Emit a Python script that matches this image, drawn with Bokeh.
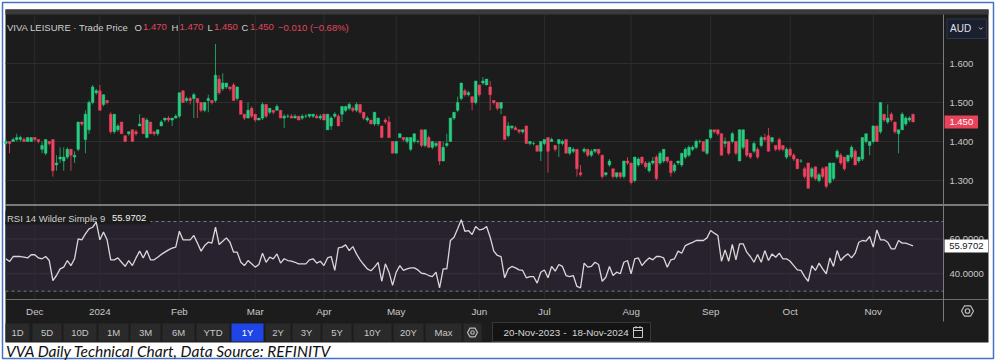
from bokeh.plotting import figure
from bokeh.models import Range1d, ColumnDataSource
from bokeh.core.properties import value
from bokeh.embed import file_html
from bokeh.resources import INLINE

# ---------------- data ----------------
open_ = [
    1.395, 1.400, 1.400, 1.405, 1.405, 1.405, 1.400, 1.400, 1.410, 1.405,
    1.380, 1.370, 1.400, 1.405, 1.340, 1.355, 1.350, 1.360, 1.380, 1.360,
    1.380, 1.450, 1.405, 1.430, 1.500, 1.525, 1.530, 1.495, 1.505, 1.470,
    1.425, 1.430, 1.450, 1.415, 1.420, 1.430, 1.425, 1.440, 1.460, 1.410,
    1.450, 1.425, 1.420, 1.440, 1.455, 1.460, 1.455, 1.460, 1.465, 1.530,
    1.505, 1.510, 1.510, 1.510, 1.500, 1.480, 1.505, 1.505, 1.505, 1.560,
    1.535, 1.540, 1.540, 1.545, 1.510, 1.505, 1.470, 1.460, 1.485, 1.470,
    1.455, 1.460, 1.495, 1.475, 1.480, 1.480, 1.480, 1.460, 1.465, 1.465,
    1.460, 1.465, 1.460, 1.465, 1.465, 1.465, 1.465, 1.460, 1.470, 1.430,
    1.440, 1.465, 1.465, 1.470, 1.480, 1.485, 1.485, 1.480, 1.495, 1.475,
    1.455, 1.455, 1.445, 1.445, 1.440, 1.455, 1.450, 1.400, 1.370, 1.410,
    1.410, 1.400, 1.380, 1.400, 1.400, 1.430, 1.390, 1.410, 1.385, 1.390,
    1.400, 1.350, 1.390, 1.400, 1.460, 1.480, 1.510, 1.530, 1.520, 1.515,
    1.500, 1.545, 1.550, 1.545, 1.540, 1.505, 1.500, 1.485, 1.465, 1.415,
    1.435, 1.435, 1.430, 1.425, 1.440, 1.395, 1.395, 1.390, 1.375, 1.395,
    1.410, 1.400, 1.390, 1.395, 1.395, 1.405, 1.370, 1.375, 1.380, 1.320,
    1.375, 1.380, 1.365, 1.375, 1.380, 1.365, 1.315, 1.340, 1.330, 1.310,
    1.320, 1.310, 1.350, 1.345, 1.300, 1.340, 1.360, 1.345, 1.325, 1.345,
    1.360, 1.345, 1.350, 1.360, 1.350, 1.325, 1.345, 1.340, 1.360, 1.365,
    1.380, 1.385, 1.400, 1.400, 1.370, 1.410, 1.430, 1.430, 1.420, 1.395,
    1.400, 1.400, 1.400, 1.350, 1.385, 1.405, 1.370, 1.375, 1.380, 1.390,
    1.410, 1.415, 1.400, 1.390, 1.405, 1.390, 1.360, 1.380, 1.365, 1.355,
    1.350, 1.330, 1.345, 1.310, 1.335, 1.300, 1.330, 1.335, 1.295, 1.305,
    1.360, 1.365, 1.360, 1.350, 1.360, 1.375, 1.350, 1.355, 1.400, 1.390,
    1.400, 1.440, 1.425, 1.470, 1.450, 1.470, 1.450, 1.420, 1.430, 1.445,
    1.455, 1.470,
]
high = [
    1.405, 1.400, 1.410, 1.420, 1.415, 1.410, 1.410, 1.410, 1.410, 1.405,
    1.400, 1.405, 1.400, 1.405, 1.365, 1.385, 1.385, 1.385, 1.380, 1.375,
    1.450, 1.450, 1.480, 1.505, 1.545, 1.535, 1.545, 1.520, 1.505, 1.475,
    1.470, 1.445, 1.450, 1.415, 1.425, 1.430, 1.430, 1.470, 1.460, 1.460,
    1.450, 1.425, 1.430, 1.455, 1.460, 1.465, 1.460, 1.470, 1.525, 1.530,
    1.515, 1.515, 1.525, 1.510, 1.500, 1.500, 1.520, 1.505, 1.650, 1.570,
    1.575, 1.550, 1.540, 1.550, 1.540, 1.505, 1.470, 1.500, 1.490, 1.470,
    1.460, 1.500, 1.495, 1.485, 1.480, 1.495, 1.480, 1.470, 1.470, 1.470,
    1.470, 1.465, 1.470, 1.470, 1.470, 1.470, 1.470, 1.470, 1.470, 1.470,
    1.465, 1.475, 1.470, 1.490, 1.490, 1.500, 1.490, 1.500, 1.495, 1.475,
    1.465, 1.455, 1.475, 1.460, 1.440, 1.460, 1.465, 1.400, 1.400, 1.420,
    1.410, 1.410, 1.410, 1.420, 1.405, 1.430, 1.430, 1.415, 1.400, 1.400,
    1.400, 1.400, 1.420, 1.460, 1.475, 1.515, 1.550, 1.535, 1.530, 1.515,
    1.555, 1.545, 1.565, 1.560, 1.555, 1.505, 1.500, 1.500, 1.465, 1.450,
    1.440, 1.440, 1.430, 1.430, 1.440, 1.400, 1.400, 1.390, 1.400, 1.405,
    1.410, 1.410, 1.390, 1.405, 1.405, 1.405, 1.385, 1.385, 1.380, 1.340,
    1.385, 1.380, 1.380, 1.380, 1.380, 1.365, 1.320, 1.355, 1.330, 1.320,
    1.320, 1.350, 1.360, 1.345, 1.360, 1.360, 1.360, 1.350, 1.350, 1.360,
    1.365, 1.375, 1.380, 1.360, 1.350, 1.345, 1.350, 1.370, 1.385, 1.390,
    1.390, 1.405, 1.405, 1.400, 1.405, 1.430, 1.430, 1.430, 1.420, 1.410,
    1.400, 1.425, 1.400, 1.430, 1.430, 1.405, 1.370, 1.400, 1.385, 1.415,
    1.420, 1.435, 1.410, 1.390, 1.410, 1.390, 1.385, 1.385, 1.370, 1.355,
    1.355, 1.335, 1.345, 1.335, 1.335, 1.320, 1.335, 1.335, 1.345, 1.345,
    1.380, 1.370, 1.360, 1.365, 1.390, 1.380, 1.360, 1.410, 1.420, 1.400,
    1.440, 1.440, 1.500, 1.470, 1.495, 1.475, 1.450, 1.430, 1.475, 1.465,
    1.465, 1.470,
]
low = [
    1.390, 1.370, 1.400, 1.400, 1.400, 1.400, 1.400, 1.400, 1.400, 1.395,
    1.370, 1.365, 1.390, 1.310, 1.325, 1.345, 1.325, 1.355, 1.325, 1.345,
    1.375, 1.440, 1.370, 1.420, 1.495, 1.520, 1.480, 1.490, 1.495, 1.420,
    1.420, 1.425, 1.420, 1.400, 1.415, 1.400, 1.415, 1.440, 1.420, 1.410,
    1.420, 1.415, 1.415, 1.440, 1.450, 1.450, 1.440, 1.460, 1.460, 1.500,
    1.500, 1.495, 1.460, 1.460, 1.475, 1.475, 1.475, 1.495, 1.500, 1.520,
    1.530, 1.535, 1.530, 1.505, 1.505, 1.470, 1.455, 1.460, 1.460, 1.450,
    1.455, 1.455, 1.460, 1.470, 1.470, 1.480, 1.460, 1.435, 1.460, 1.460,
    1.460, 1.455, 1.455, 1.460, 1.460, 1.460, 1.460, 1.455, 1.455, 1.430,
    1.430, 1.460, 1.440, 1.450, 1.475, 1.480, 1.475, 1.475, 1.470, 1.455,
    1.450, 1.445, 1.440, 1.440, 1.410, 1.445, 1.410, 1.370, 1.370, 1.410,
    1.400, 1.395, 1.375, 1.395, 1.395, 1.385, 1.385, 1.385, 1.380, 1.385,
    1.340, 1.350, 1.385, 1.400, 1.455, 1.475, 1.505, 1.515, 1.515, 1.480,
    1.495, 1.515, 1.545, 1.545, 1.480, 1.495, 1.480, 1.470, 1.405, 1.410,
    1.430, 1.430, 1.420, 1.420, 1.395, 1.390, 1.390, 1.375, 1.350, 1.390,
    1.320, 1.400, 1.375, 1.360, 1.390, 1.370, 1.365, 1.370, 1.310, 1.310,
    1.370, 1.360, 1.360, 1.370, 1.365, 1.305, 1.310, 1.335, 1.305, 1.305,
    1.305, 1.305, 1.340, 1.290, 1.295, 1.335, 1.340, 1.330, 1.320, 1.340,
    1.300, 1.340, 1.345, 1.345, 1.310, 1.320, 1.340, 1.335, 1.355, 1.360,
    1.375, 1.380, 1.395, 1.375, 1.365, 1.405, 1.420, 1.415, 1.365, 1.385,
    1.365, 1.395, 1.365, 1.350, 1.380, 1.360, 1.355, 1.370, 1.355, 1.385,
    1.400, 1.375, 1.395, 1.375, 1.375, 1.375, 1.355, 1.360, 1.350, 1.330,
    1.345, 1.305, 1.280, 1.305, 1.300, 1.295, 1.305, 1.280, 1.290, 1.300,
    1.355, 1.340, 1.325, 1.345, 1.355, 1.340, 1.345, 1.350, 1.395, 1.365,
    1.395, 1.400, 1.420, 1.450, 1.445, 1.450, 1.420, 1.370, 1.430, 1.440,
    1.450, 1.450,
]
close = [
    1.400, 1.395, 1.405, 1.410, 1.410, 1.400, 1.410, 1.410, 1.405, 1.400,
    1.390, 1.405, 1.395, 1.325, 1.345, 1.360, 1.360, 1.380, 1.365, 1.365,
    1.450, 1.445, 1.470, 1.500, 1.540, 1.530, 1.480, 1.520, 1.500, 1.425,
    1.470, 1.440, 1.420, 1.400, 1.425, 1.400, 1.420, 1.445, 1.420, 1.455,
    1.420, 1.420, 1.430, 1.450, 1.460, 1.455, 1.460, 1.465, 1.525, 1.500,
    1.510, 1.505, 1.520, 1.500, 1.480, 1.500, 1.510, 1.500, 1.570, 1.525,
    1.550, 1.550, 1.535, 1.505, 1.540, 1.470, 1.460, 1.480, 1.465, 1.455,
    1.460, 1.495, 1.465, 1.485, 1.475, 1.490, 1.460, 1.465, 1.465, 1.460,
    1.465, 1.455, 1.465, 1.465, 1.470, 1.470, 1.460, 1.465, 1.455, 1.470,
    1.460, 1.470, 1.440, 1.490, 1.490, 1.495, 1.480, 1.495, 1.475, 1.460,
    1.460, 1.445, 1.475, 1.460, 1.410, 1.450, 1.410, 1.370, 1.400, 1.420,
    1.405, 1.410, 1.410, 1.420, 1.400, 1.390, 1.430, 1.385, 1.400, 1.395,
    1.350, 1.385, 1.395, 1.460, 1.475, 1.500, 1.550, 1.520, 1.525, 1.500,
    1.555, 1.520, 1.555, 1.560, 1.520, 1.500, 1.485, 1.500, 1.405, 1.440,
    1.440, 1.430, 1.425, 1.430, 1.395, 1.400, 1.395, 1.375, 1.400, 1.405,
    1.375, 1.405, 1.380, 1.405, 1.400, 1.370, 1.385, 1.380, 1.330, 1.315,
    1.380, 1.365, 1.375, 1.380, 1.370, 1.310, 1.320, 1.350, 1.310, 1.320,
    1.310, 1.350, 1.345, 1.295, 1.360, 1.355, 1.345, 1.335, 1.345, 1.350,
    1.305, 1.370, 1.380, 1.350, 1.320, 1.340, 1.350, 1.370, 1.380, 1.385,
    1.385, 1.400, 1.400, 1.375, 1.405, 1.430, 1.425, 1.420, 1.365, 1.400,
    1.370, 1.420, 1.370, 1.430, 1.430, 1.365, 1.360, 1.395, 1.360, 1.410,
    1.405, 1.375, 1.410, 1.380, 1.380, 1.380, 1.380, 1.365, 1.355, 1.330,
    1.350, 1.310, 1.280, 1.330, 1.305, 1.315, 1.310, 1.285, 1.345, 1.345,
    1.375, 1.345, 1.330, 1.365, 1.385, 1.340, 1.360, 1.410, 1.420, 1.400,
    1.440, 1.400, 1.500, 1.455, 1.460, 1.455, 1.425, 1.430, 1.470, 1.460,
    1.460, 1.450,
]
rsi = [
    48.6, 47.0, 49.9, 49.9, 49.9, 49.5, 49.1, 50.9, 50.9, 49.1,
    48.6, 49.9, 47.6, 36.1, 39.0, 42.8, 43.8, 47.6, 44.7, 48.6,
    60.0, 59.5, 62.9, 65.8, 66.7, 69.6, 59.5, 63.9, 59.5, 48.0,
    48.0, 49.1, 46.6, 44.2, 47.6, 44.7, 49.1, 53.0, 49.1, 53.3,
    48.0, 48.0, 49.5, 51.1, 52.4, 53.7, 54.7, 55.3, 64.4, 59.5,
    59.5, 59.5, 62.0, 57.6, 53.0, 56.2, 58.1, 57.6, 66.7, 56.8,
    58.7, 60.6, 58.1, 52.4, 52.4, 46.6, 44.7, 47.6, 45.7, 43.8,
    45.3, 51.8, 46.6, 49.5, 48.6, 51.4, 46.1, 48.6, 47.6, 47.2,
    46.6, 45.7, 45.7, 45.7, 48.0, 48.6, 46.1, 47.2, 44.7, 49.1,
    49.9, 41.9, 54.9, 55.3, 56.6, 53.3, 55.6, 51.4, 48.0, 45.3,
    42.8, 41.7, 43.8, 46.6, 35.7, 45.7, 40.9, 33.3, 40.9, 44.7,
    41.9, 42.8, 43.4, 43.4, 42.2, 40.3, 40.0, 39.0, 38.4, 40.9,
    31.9, 42.8, 42.8, 59.1, 61.0, 65.8, 71.0, 64.4, 64.8, 62.5,
    67.1, 65.2, 65.6, 67.1, 61.0, 53.0, 50.5, 49.9, 37.7, 42.8,
    44.2, 43.4, 42.2, 41.9, 37.7, 38.4, 38.4, 34.6, 40.9, 42.2,
    37.7, 44.2, 41.5, 45.3, 44.2, 39.0, 38.4, 39.0, 32.7, 31.9,
    46.1, 43.8, 44.2, 46.6, 45.3, 35.7, 38.0, 44.2, 39.0, 40.9,
    40.0, 46.6, 47.6, 40.0, 48.6, 49.1, 44.7, 47.2, 49.1, 48.0,
    49.9, 49.9, 49.1, 43.8, 48.0, 48.6, 53.0, 51.8, 56.2, 57.2,
    58.0, 59.1, 59.1, 59.1, 60.6, 64.8, 63.3, 62.0, 47.2, 53.7,
    47.2, 56.8, 48.0, 57.2, 57.2, 52.4, 49.9, 46.6, 51.1, 46.6,
    53.3, 47.6, 51.4, 49.5, 51.8, 48.6, 48.6, 47.2, 44.7, 42.2,
    41.9, 38.4, 35.7, 44.7, 41.9, 46.1, 42.8, 40.0, 49.1, 44.2,
    53.3, 47.6, 49.9, 51.4, 49.1, 51.8, 58.1, 59.1, 58.7, 61.4,
    55.3, 65.2, 59.5, 59.5, 58.1, 54.3, 54.3, 59.1, 57.6, 57.6,
    56.8, 55.9702,
]
month_labels = ["Dec", "2024", "Feb", "Mar", "Apr", "May", "Jun", "Jul", "Aug", "Sep", "Oct", "Nov"]
month_idx = [8, 26, 48, 69, 88, 108, 131, 149, 173, 195, 217, 240]
price_ticks = [1.3, 1.4, 1.5, 1.6]
price_tick_labels = ["1.300", "1.400", "1.500", "1.600"]
rsi_ticks = [40, 60]
rsi_tick_labels = ["40.0000", "60.0000"]
rsi_levels = [30, 70]
buttons = ["1D", "5D", "10D", "1M", "3M", "6M", "YTD", "1Y", "2Y", "3Y", "5Y", "10Y", "20Y", "Max"]
selected_button = "1Y"
date_from, date_to = "20-Nov-2023", "18-Nov-2024"
instrument = "VIVA LEISURE · Trade Price"
rsi_name = "RSI 14 Wilder Simple 9"
currency = "AUD"
caption = "VVA Daily Technical Chart, Data Source: REFINITV"

n = min(len(open_), len(high), len(low), len(close), len(rsi))
idx = list(range(n))

# ---------------- layout (pixel grid of the page) ----------------
X0, DX = 5.4, 3.614          # candle index -> px
PY0, PK = 63.0, 390.0        # px of price 1.6, px per price unit
RY0, RK = 221.0, 1.742       # px of RSI 70, px per RSI point
W, H = 995, 360
L, R, T, B = 0.0, float(W), 0.0, float(H)

FONT = "Liberation Sans"
BG = "#1c1c1c"
GRID = "#2d2d2d"
GREEN, RED = "#27cc80", "#ef4360"
GREEN_W, RED_W = "#1f9c62", "#c23a52"
TXT = "#cfcfcf"
FS = "9.5px"

p = figure(width=W, height=H, x_range=Range1d(L, R), y_range=Range1d(B, T),
           output_backend="svg", toolbar_location=None, min_border=0,
           x_axis_location=None, y_axis_location=None,
           background_fill_color="white", border_fill_color="white",
           outline_line_color=None)
p.grid.grid_line_color = None
p.extra_x_ranges = {"idx": Range1d((L - X0) / DX, (R - X0) / DX)}
p.extra_y_ranges = {"price": Range1d(1.6 - (B - PY0) / PK, 1.6 + (PY0 - T) / PK),
                    "rsi": Range1d(70 - (B - RY0) / RK, 70 + (RY0 - T) / RK)}


def txt(x, y, s, color=TXT, size=FS, align="left", font=FONT, style="normal",
        xr="default", yr="default", baseline="middle"):
    k = max(len(v) if isinstance(v, list) else 1 for v in (x, y, s))
    xs = x if isinstance(x, list) else [x] * k
    ys = y if isinstance(y, list) else [y] * k
    ss = s if isinstance(s, list) else [s] * k
    p.text(x=xs, y=ys, text=ss, text_color=color, text_font_size=size,
           text_align=align, text_baseline=baseline, text_font=value(font),
           text_font_style=style, x_range_name=xr, y_range_name=yr)


# frame, border, dark area
p.quad(left=[5], right=[988], top=[9], bottom=[342], fill_color=BG, line_color=None)
p.quad(left=[5], right=[988], top=[9], bottom=[14], fill_color="#3a3a3a", line_color=None)
p.quad(left=[2], right=[993], top=[2], bottom=[358], fill_color=None,
       line_color="#4472c4", line_width=1.5)

# RSI band
p.quad(left=[5], right=[943], top=[rsi_levels[1]], bottom=[rsi_levels[0]],
       fill_color="#28222f", line_color=None, y_range_name="rsi")

# grids
p.segment(x0=5, x1=943, y0=price_ticks, y1=price_ticks, line_color=GRID,
          line_width=1, y_range_name="price")
p.segment(x0=5, x1=943, y0=rsi_ticks, y1=rsi_ticks, line_color="#37313f",
          line_width=1, y_range_name="rsi")
p.segment(x0=month_idx, x1=month_idx, y0=14, y1=299, line_color=GRID,
          line_width=1, x_range_name="idx")
p.segment(x0=5, x1=943, y0=rsi_levels, y1=rsi_levels, line_color="#7a7a7a",
          line_width=1, line_dash="3 3", y_range_name="rsi")

# separators
p.segment(x0=[5], x1=[988], y0=[204.5], y1=[204.5], line_color="#9a9a9a", line_width=1.6)
p.segment(x0=[5], x1=[988], y0=[299], y1=[299], line_color="#6a6a6a", line_width=1.2)
p.segment(x0=[943], x1=[943], y0=[14], y1=[321], line_color="#7a7a7a", line_width=1)

# candles
up = [c >= o for o, c in zip(open_[:n], close[:n])]
src = ColumnDataSource(dict(
    i=idx, h=high[:n], l=low[:n],
    top=[max(o, c) for o, c in zip(open_[:n], close[:n])],
    bot=[min(o, c) for o, c in zip(open_[:n], close[:n])],
    col=[GREEN if u else RED for u in up],
    wick=[GREEN_W if u else RED_W for u in up],
))
p.segment(x0="i", y0="h", x1="i", y1="l", line_color="wick", line_width=1,
          source=src, x_range_name="idx", y_range_name="price")
p.vbar(x="i", width=0.72, top="top", bottom="bot", fill_color="col",
       line_color="col", line_width=0.5, source=src,
       x_range_name="idx", y_range_name="price")

# RSI header box + line
p.quad(left=[5], right=[150], top=[210], bottom=[224], fill_color=BG, line_color=None)
p.line(x=idx, y=rsi[:n], line_color="#d8d8d8", line_width=1.3,
       x_range_name="idx", y_range_name="rsi")
txt(6.5, 217.5, rsi_name, color=TXT)
txt(111.5, 217.5, f"{rsi[n-1]:.4f}", color="#f2f2f2")

# title line
o_l, h_l, l_l, c_l = open_[n-1], high[n-1], low[n-1], close[n-1]
chg = close[n-1] - close[n-2]
pct = chg / close[n-2] * 100
sign = "\u2212" if chg < 0 else "+"
TRED = "#e0465e"
txt(6.5, 26.5, instrument)
for xl, lab, xv, v in [(134, "O", 142.5, o_l), (171, "H", 179, h_l),
                       (207, "L", 213.5, l_l), (241, "C", 249.5, c_l)]:
    txt(xl, 26.5, lab)
    txt(xv, 26.5, f"{v:.3f}", color=TRED)
txt(277.5, 26.5, f"{sign}{abs(chg):.3f} ({sign}{abs(pct):.2f}%)", color=TRED)

# price axis labels
txt(949, price_ticks, price_tick_labels, yr="price", color="#c8c8c8")
txt(949, rsi_ticks, rsi_tick_labels, yr="rsi", color="#c8c8c8")

# last price / last rsi boxes
p.rect(x=[960.8], y=[close[n-1]], width=33.5, height=13, height_units="screen",
       fill_color="#e8435b", line_color=None, y_range_name="price")
txt(960.8, close[n-1], f"{close[n-1]:.3f}", color="white", align="center", yr="price")
p.rect(x=[965.8], y=[rsi[n-1]], width=43.5, height=13, height_units="screen",
       fill_color="white", line_color=None, y_range_name="rsi")
txt(965.8, rsi[n-1], f"{rsi[n-1]:.4f}", color="#202020", align="center", yr="rsi")

# currency box
p.quad(left=[946.5], right=[986], top=[18.5], bottom=[38], fill_color="#1b2030",
       line_color="#2f3648", line_width=1)
txt(949.5, 28, currency, color="#e0e0e0", size="10px")
p.line(x=[978.5, 980.3, 982.1], y=[27, 28.8, 27], line_color="#bcbcbc", line_width=1)

# month labels
txt(month_idx, 311, month_labels, xr="idx", align="center", color="#c8c8c8", size="9.8px")

# toolbar
btn_left = [5, 32, 63, 98, 130, 162, 196, 231, 265, 292, 322, 353, 393, 425]
btn_right = [29, 61, 96, 128, 160, 194, 229, 263, 290, 320, 351, 391, 423, 461]
btn_fill = ["#2045e6" if b == selected_button else "#2a2a2a" for b in buttons]
p.quad(left=btn_left, right=btn_right, top=[323] * len(buttons), bottom=[341] * len(buttons),
       fill_color=btn_fill, line_color=None)
p.quad(left=[463], right=[481], top=[323], bottom=[341], fill_color="#2a2a2a", line_color=None)
btn_cx = [(a + b) / 2 for a, b in zip(btn_left, btn_right)]
btn_col = ["white" if b == selected_button else "#c8c8c8" for b in buttons]
p.text(x=btn_cx, y=[332] * len(buttons), text=buttons, text_color=btn_col,
       text_font_size="9.5px", text_align="center", text_baseline="middle",
       text_font=value(FONT))

# gear icons
p.scatter(x=[472, 967], y=[332, 310.5], marker="hex", size=[10, 12],
          fill_color=None, line_color="#bdbdbd", line_width=1.2)
p.scatter(x=[472, 967], y=[332, 310.5], marker="circle", size=[3.5, 4.5],
          fill_color=None, line_color="#bdbdbd", line_width=1.2)

# date range box
p.quad(left=[492], right=[650], top=[322], bottom=[341], fill_color="#141414",
       line_color="#383838", line_width=1)
txt(503, 332, date_from, color="#d6d6d6", size="9.8px")
txt(564.5, 332, "-", color="#d6d6d6", size="9.8px", align="center")
txt(571.5, 332, date_to, color="#d6d6d6", size="9.8px")
p.quad(left=[633], right=[642], top=[327], bottom=[337], fill_color=None,
       line_color="#c8c8c8", line_width=1)
p.segment(x0=[633], x1=[642], y0=[330], y1=[330], line_color="#c8c8c8", line_width=1)
p.segment(x0=[635.5, 639.5], x1=[635.5, 639.5], y0=[325.5, 325.5], y1=[328, 328],
          line_color="#c8c8c8", line_width=1)

# caption
txt(5.5, 350, caption, color="#111111", size="15.5px", font="Lato", style="italic")

open("out.html", "w").write(file_html(p, INLINE))
